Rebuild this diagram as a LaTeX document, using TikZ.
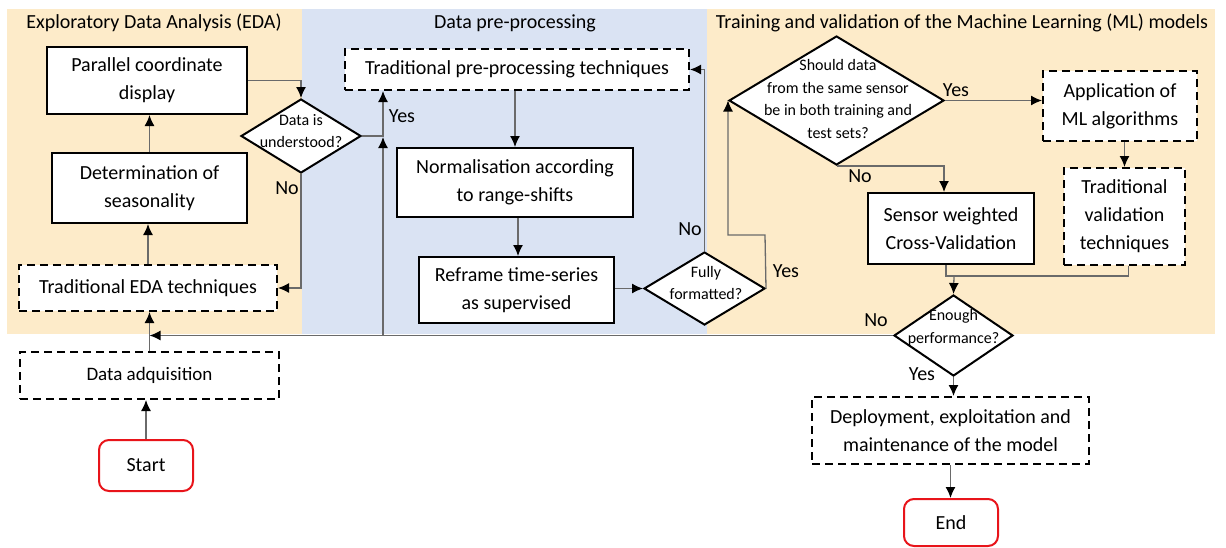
\documentclass[tikz,border=0pt]{standalone}
\usepackage{fontspec}
\setmainfont{Carlito}
\usetikzlibrary{arrows.meta,shapes.geometric,calc}
\definecolor{edaback}{HTML}{FDEBC9}
\definecolor{preback}{HTML}{DAE3F3}
\definecolor{connline}{HTML}{6A6A6A}
\definecolor{termred}{HTML}{E8141A}
\tikzset{
  box/.style={draw=black, line width=2pt, fill=white, align=center, inner sep=2pt,
    font=\fontsize{20}{28}\selectfont},
  dbox/.style={box, dash pattern=on 8pt off 5pt},
  term/.style={draw=termred, line width=2pt, fill=white, rounded corners=10pt,
    font=\fontsize{20}{28}\selectfont},
  dia/.style={diamond, draw=black, line width=2pt, fill=white, inner sep=0pt},
  dtext/.style={align=center, font=\fontsize{16}{22.5}\selectfont, inner sep=0pt},
  lbl/.style={font=\fontsize{20}{24}\selectfont, inner sep=0pt},
  head/.style={font=\fontsize{20}{24}\selectfont, inner sep=0pt},
  conn/.style={draw=connline, line width=1.3pt},
  arr/.style={conn, -{Latex[length=11pt,width=10pt,color=black]}},
}
\begin{document}
\begin{tikzpicture}[x=1pt,y=-1pt]
\useasboundingbox (0,0) rectangle (1226,547);

% swimlane backgrounds
\fill[edaback] (7,9) rectangle (302,334);
\fill[preback] (302,9) rectangle (707,334);
\fill[edaback] (707,9) rectangle (1215,334);

\node[head] (h1) at (154,23) {Exploratory Data Analysis (EDA)};
\node[head] (h2) at (515,23) {Data pre-processing};
\node[head] (h3) at (962,23) {Training and validation of the Machine Learning (ML) models};

% EDA lane
\node[box, minimum width=200pt, minimum height=67pt] (par) at (147,80.5) {Parallel coordinate\\display};
\node[box, minimum width=195pt, minimum height=70pt] (det) at (149.5,188) {Determination of\\seasonality};
\node[dbox, minimum width=258pt, minimum height=46pt] (teda) at (148,288) {Traditional EDA techniques};
\node[dia, minimum width=120pt, minimum height=74pt] (und) at (301,136) {};
\node[dtext] (undt) at (301,131) {Data is\\understood?};
\node[dbox, minimum width=259pt, minimum height=47pt, font=\fontsize{19}{26}\selectfont] (acq) at (149.5,375.5) {Data adquisition};
\node[term, minimum width=94pt, minimum height=51pt] (start) at (146,465.5) {Start};

% pre-processing lane
\node[dbox, minimum width=344pt, minimum height=41pt] (tpre) at (517,69.5) {Traditional pre-processing techniques};
\node[box, minimum width=236pt, minimum height=69pt] (norm) at (515,182.5) {Normalisation according\\to range-shifts};
\node[box, minimum width=195pt, minimum height=66pt] (refr) at (516.5,290) {Reframe time-series\\as supervised};
\node[dia, minimum width=121pt, minimum height=73pt] (full) at (704.5,288.5) {};
\node[dtext] (fullt) at (706,283) {Fully\\formatted?};

% training and validation lane
\node[dia, minimum width=215pt, minimum height=129pt] (shd) at (836.5,100.5) {};
\node[dtext] (shdt) at (838,99) {Should data\\from the same sensor\\be in both training and\\test sets?};
\node[dbox, minimum width=154pt, minimum height=70pt] (app) at (1120,106) {Application of\\ML algorithms};
\node[dbox, minimum width=121pt, minimum height=97pt] (tval) at (1124.5,216.5) {Traditional\\validation\\techniques};
\node[box, minimum width=166pt, minimum height=71pt] (sens) at (951,228.5) {Sensor weighted\\Cross-Validation};
\node[dia, minimum width=119pt, minimum height=81pt] (enough) at (953.5,335.5) {};
\node[dtext] (enought) at (953.5,327.5) {Enough\\performance?};
\node[dbox, minimum width=277pt, minimum height=67pt] (dep) at (950.5,430.5) {Deployment, exploitation and\\maintenance of the model};
\node[term, minimum width=94pt, minimum height=47pt] (end) at (951,522.5) {End};

% junction points
\coordinate (jn) at (383,136);
\coordinate (fyes) at (765,235);
\coordinate (mg) at (954,276);

% connectors
\draw[arr] (start.north) -- (start.north |- acq.south);
\draw[arr] (acq.north) -- (acq.north |- teda.south);
\draw[arr] (teda.north) -- (teda.north |- det.south);
\draw[arr] (det.north) -- (det.north |- par.south);
\draw[arr] (par.east) -| (und.north);
\draw[arr] (und.south) |- (teda.east);
\draw[arr] (und.east) -- (jn) -- (jn |- tpre.south);
\draw[arr] (enough.west) -- (enough.west -| acq.north);
\draw[arr] (jn |- enough.west) -- ($(jn)+(0,1)$);
\draw[arr] (tpre.south -| norm.north) -- (norm.north);
\draw[arr] ($(norm.south)+(3,0)$) -- ($(norm.south |- refr.north)+(3,0)$);
\draw[arr] (full.west -| refr.east) -- (full.west);
\draw[arr] (full.north) |- (tpre.east);
\draw[arr] (full.east) -- (fyes) -| (shd.west);
\draw[arr] (shd.east) -- (shd.east -| app.west);
\draw[arr] (shd.south) -| ($(sens.north)+(-7,0)$);
\draw[arr] (tval.north |- app.south) -- (tval.north);
\draw[conn] ($(sens.south)+(-5,0)$) |- ($(tval.south |- mg)+(4,0)$) -- ($(tval.south)+(4,0)$);
\draw[arr] (mg) -- (enough.north);
\draw[arr] (enough.south) -- (enough.south |- dep.north);
\draw[arr] (dep.south) -- (dep.south |- end.north);

% branch labels
\node[lbl] (l1) at (287,188) {No};
\node[lbl] (l2) at (402,116) {Yes};
\node[lbl] (l3) at (690,229) {No};
\node[lbl] (l4) at (786,271) {Yes};
\node[lbl] (l5) at (956,90) {Yes};
\node[lbl] (l6) at (860,176) {No};
\node[lbl] (l7) at (876,320) {No};
\node[lbl] (l8) at (922,374) {Yes};
\end{tikzpicture}
\end{document}
